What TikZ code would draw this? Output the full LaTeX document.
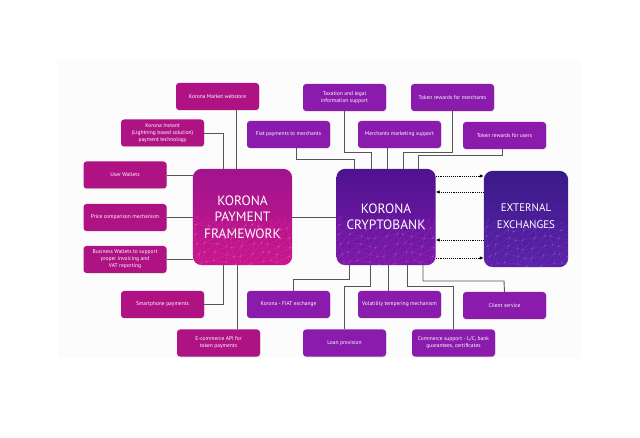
\documentclass[tikz,border=0pt]{standalone}
\usepackage{fontspec}
\setmainfont{PT Sans}
\usetikzlibrary{arrows.meta,calc,backgrounds,shadows}
\definecolor{magbox}{HTML}{AE1283}
\definecolor{purbox}{HTML}{8A1BAD}
\definecolor{linkgray}{HTML}{555555}
\definecolor{pftop}{HTML}{A0148D}
\definecolor{pfbot}{HTML}{C8168C}
\definecolor{cbtop}{HTML}{4E1290}
\definecolor{cbbot}{HTML}{7C1AA8}
\definecolor{extop}{HTML}{3A1A88}
\definecolor{exbot}{HTML}{5C22A8}
\definecolor{netpink}{HTML}{FF5CC8}
\definecolor{netviolet}{HTML}{D050E8}
\definecolor{netblue}{HTML}{A060F0}
\tikzset{
  mbox/.style={rectangle, rounded corners=3pt, align=center, text=white, font=\fontsize{5.5}{7}\selectfont, minimum width=83pt, minimum height=27pt, inner sep=2pt, fill=magbox, drop shadow={shadow xshift=0.6pt, shadow yshift=-0.8pt, opacity=0.2}},
  pbox/.style={mbox, fill=purbox},
  bigbox/.style={rectangle, rounded corners=9pt, align=center, text=white, font=\fontsize{13.5}{16.5}\selectfont, minimum width=99pt, minimum height=96pt, inner sep=2pt},
  link/.style={draw=linkgray, line width=0.9pt},
  xarr/.style={-{Latex[length=4pt,width=3.5pt]}, densely dotted, line width=0.9pt},
}
% faint network inside a big box
\newcommand{\drawnet}[2]{%
  \begin{scope}
    \clip[rounded corners=9pt] (#1.south west) rectangle (#1.north east);
    \foreach \i in {0,...,12}{
      \foreach \j in {0,...,5}{
        \coordinate (#1-\i-\j) at ($(#1.south west)+({\i*9-4+2.5*sin(97*\i+53*\j)},{-\j*9-2+2.5*cos(61*\i+29*\j)})$);
      }
    }
    \foreach \i [evaluate=\i as \ii using int(\i+1)] in {0,...,11}{
      \foreach \j [evaluate=\j as \jj using int(\j+1)] in {0,...,4}{
        \draw[#2, opacity=0.3, line width=0.3pt] (#1-\i-\j) -- (#1-\ii-\j) (#1-\i-\j) -- (#1-\i-\jj) (#1-\i-\j) -- (#1-\ii-\jj);
        \fill[#2, opacity=0.55] (#1-\i-\j) circle (0.8pt);
      }
    }
  \end{scope}}

\begin{document}
\begin{tikzpicture}[x=1pt, y=-1pt]
\useasboundingbox (0,0) rectangle (640,438);

% big boxes
\node[bigbox] (pf) at (242.5,217) {KORONA\\PAYMENT\\FRAMEWORK};
\node[bigbox] (cb) at (386,217) {KORONA\\CRYPTOBANK};
\node[bigbox, minimum width=84pt, font=\fontsize{11}{16.5}\selectfont, text depth=6pt] (ex) at (526,219) {EXTERNAL\\EXCHANGES};

\begin{scope}[on background layer]
  \fill[black!1] (58,60) rectangle (581,358);
  \shade[rounded corners=9pt, top color=pftop, bottom color=pfbot] (pf.south west) rectangle (pf.north east);
  \drawnet{pf}{netpink}
  \shade[rounded corners=9pt, top color=cbtop, bottom color=cbbot] (cb.south west) rectangle (cb.north east);
  \drawnet{cb}{netviolet}
  \shade[rounded corners=9pt, top color=extop, bottom color=exbot] (ex.south west) rectangle (ex.north east);
  \drawnet{ex}{netblue}
\end{scope}

% payment framework side
\node[mbox] (webstore) at (217.5,96.5) {Korona Market webstore};
\node[mbox] (instant) at (162.5,133) {Korona Instant\\(Lightning based solution)\\payment technology};
\node[mbox] (uwallet) at (125,175) {User Wallets};
\node[mbox] (pricecmp) at (125,217.5) {Price comparison mechanism};
\node[mbox] (bwallet) at (125,259.5) {Business Wallets to support\\proper invoicing and\\VAT reporting};
\node[mbox] (phone) at (162.5,304.5) {Smartphone payments};
\node[mbox] (ecom) at (218.5,343) {E-commerce API for\\token payments};

% cryptobank, top
\node[pbox] (tax) at (344.5,97.5) {Taxation and legal\\information support};
\node[pbox] (rewm) at (452.5,97.5) {Token rewards for merchants};
\node[pbox] (fiatpay) at (288.5,134.5) {Fiat payments to merchants};
\node[pbox] (mktg) at (399.5,134.5) {Merchants marketing support};
\node[pbox] (rewu) at (504.5,135.5) {Token rewards for users};

% cryptobank, bottom
\node[pbox] (fiatex) at (288.5,304.5) {Korona - FIAT exchange};
\node[pbox] (volat) at (399.5,304.5) {Volatility tempering mechanism};
\node[pbox] (client) at (504.5,305.5) {Client service};
\node[pbox] (loan) at (344.5,343) {Loan provision};
\node[pbox] (commerce) at (453.5,343) {Commerce support - L/C, bank\\guarantees, certificates};

% links
\draw[link] (webstore.south -| 236,0) -- (pf.north -| 236,0);
\draw[link] (instant.east) -| (pf.north -| 223,0);
\draw[link] (uwallet.east) -- (uwallet.east -| pf.west);
\draw[link] (pricecmp.east) -- (pricecmp.east -| pf.west);
\draw[link] (bwallet.east) -- (bwallet.east -| pf.west);
\draw[link] (phone.east) -| (pf.south -| 223,0);
\draw[link] (ecom.north -| 237,0) -- (pf.south -| 237,0);
\draw[link] (pf.east) -- (pf.east -| cb.west);

\draw[link] (fiatpay.south -| 296,0) |- (354,159) -- (cb.north -| 354,0);
\draw[link] (tax.south) |- (371,152) -- (cb.north -| 371,0);
\draw[link] (mktg.south -| 387,0) -- (cb.north -| 387,0);
\draw[link] (rewm.south) |- (403,152) -- (cb.north -| 403,0);
\draw[link] (rewu.south -| 502,0) |- (418,155) -- (cb.north -| 418,0);

\draw[link] (cb.south -| 349,0) |- (293,279) -- (fiatex.north -| 293,0);
\draw[link] (cb.south -| 370,0) |- (344,286) -- (loan.north -| 344,0);
\draw[link] (cb.south -| 388,0) -- (volat.north -| 388,0);
\draw[link] (cb.south -| 407,0) |- (453,286) -- (commerce.north -| 453,0);
\draw[link] (cb.south -| 423,0) |- (504,281) -- (client.north);

% exchange arrows
\draw[xarr] (cb.east |- 0,176) -- (ex.west |- 0,176);
\draw[xarr] (ex.west |- 0,192) -- (cb.east |- 0,192);
\draw[xarr] (ex.west |- 0,240) -- (cb.east |- 0,240);
\draw[xarr] (cb.east |- 0,258) -- (ex.west |- 0,258);
\end{tikzpicture}
\end{document}
